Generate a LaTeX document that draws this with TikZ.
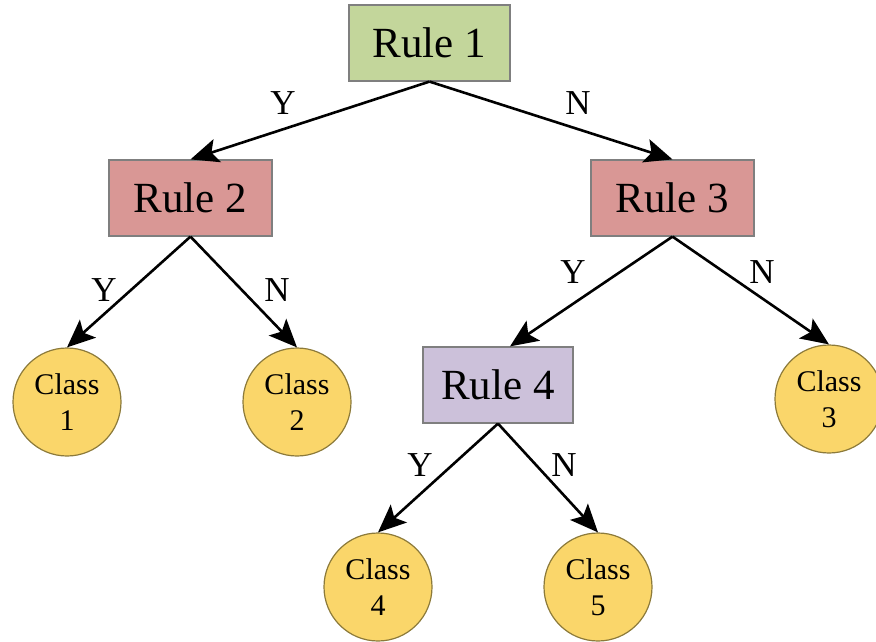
\documentclass[tikz,border=0pt]{standalone}
\usepackage{fontspec}
\setmainfont{Liberation Serif}
\usetikzlibrary{arrows.meta}
\definecolor{rulegreen}{HTML}{C3D69B}
\definecolor{rulered}{HTML}{D99795}
\definecolor{rulepurple}{HTML}{CCC1DA}
\definecolor{classyellow}{HTML}{FAD66A}
\definecolor{boxedge}{HTML}{7F7F7F}
\definecolor{circedge}{HTML}{8C7A3A}
\tikzset{
  rulebox/.style={draw=boxedge, line width=1.2pt, minimum height=76pt, inner sep=0pt,
    font=\fontsize{43}{43}\selectfont},
  classnode/.style={circle, draw=circedge, line width=1.2pt, fill=classyellow,
    minimum size=108pt, inner sep=0pt, align=center,
    font=\fontsize{30}{36}\selectfont},
  branch/.style={-{Stealth[length=28pt,width=24pt,inset=6pt]}, line width=2.6pt},
  yn/.style={font=\fontsize{35}{35}\selectfont, inner sep=0pt}
}
\begin{document}
\begin{tikzpicture}[x=1pt,y=-1pt]
  \useasboundingbox (0,0) rectangle (876,642);

  % rule boxes
  \node[rulebox, fill=rulegreen,  minimum width=161pt] (r1) at (429.5,43) {Rule 1};
  \node[rulebox, fill=rulered,    minimum width=163pt] (r2) at (190.5,198) {Rule 2};
  \node[rulebox, fill=rulered,    minimum width=163pt] (r3) at (672.5,198) {Rule 3};
  \node[rulebox, fill=rulepurple, minimum width=150pt] (r4) at (498,385) {Rule 4};

  % class leaves
  \node[classnode] (c1) at (67,402)  {Class\\1};
  \node[classnode] (c2) at (297,402) {Class\\2};
  \node[classnode] (c3) at (829,399) {Class\\3};
  \node[classnode] (c4) at (378,587) {Class\\4};
  \node[classnode] (c5) at (598,587) {Class\\5};

  % branches
  \draw[branch] (r1.south) -- (r2.north);
  \draw[branch] (r1.south) -- (r3.north);
  \draw[branch] (r2.south) -- (c1.north);
  \draw[branch] (r2.south) -- (c2.north);
  \draw[branch] (r3.south) -- ([xshift=12pt]r4.north);
  \draw[branch] (r3.south) -- (c3.north);
  \draw[branch] (r4.south) -- (c4.north);
  \draw[branch] (r4.south) -- (c5.north);

  % branch labels
  \node[yn] (y1) at (283,103) {Y};
  \node[yn] (n1) at (578,103) {N};
  \node[yn] (y2) at (104,290) {Y};
  \node[yn] (n2) at (277,290) {N};
  \node[yn] (y3) at (573,272) {Y};
  \node[yn] (n3) at (762,272) {N};
  \node[yn] (y4) at (420,465) {Y};
  \node[yn] (n4) at (564,465) {N};
\end{tikzpicture}
\end{document}
